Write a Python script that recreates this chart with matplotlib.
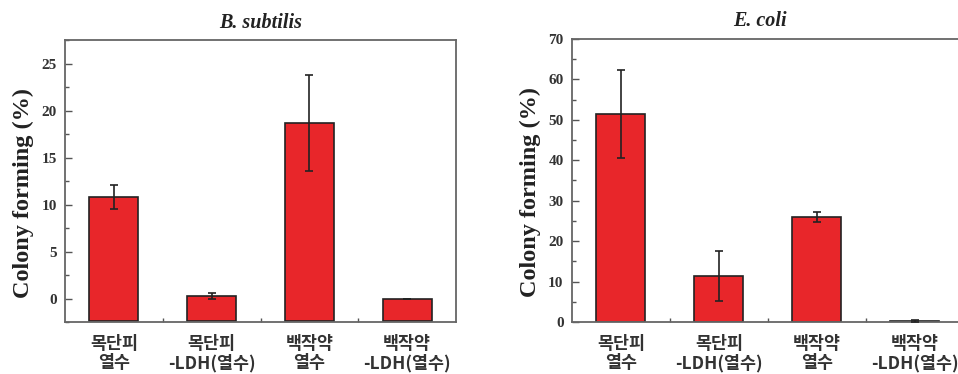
import matplotlib
matplotlib.use("Agg")
import matplotlib.pyplot as plt
import numpy as np

# 데이터
groups = ["목단피\n열수", "목단피\n-LDH(열수)", "백작약\n열수", "백작약\n-LDH(열수)"]
bs_mean = [10.8, 0.25, 18.7, 0.0]
bs_err = [1.25, 0.35, 5.1, 0.0]
ec_mean = [51.4, 11.4, 25.9, 0.3]
ec_err = [10.8, 6.2, 1.2, 0.3]

serif = ["Liberation Serif", "DejaVu Serif"]
kor = ["Noto Sans CJK KR", "DejaVu Sans"]
bar_col = "#e8262a"

fig = plt.figure(figsize=(9.58, 3.74), dpi=100)
ax1 = fig.add_axes([0.0679, 0.139, 0.4081, 0.754])
ax2 = fig.add_axes([0.597, 0.139, 0.409, 0.757])

x = np.arange(1, len(groups) + 1)

def draw(ax, mean, err, title, ylim, major, minor):
    # 막대는 축 아래쪽 끝에서 시작
    base = ylim[0]
    ax.bar(x, np.array(mean) - base, bottom=base, width=0.5, color=bar_col,
           edgecolor="#222222", linewidth=1.2, zorder=2)
    ax.errorbar(x, mean, yerr=err, fmt="none", ecolor="#222222", elinewidth=1.2,
                capsize=3, capthick=1.2, zorder=3)
    ax.set_xlim(0.5, 4.5)
    ax.set_ylim(*ylim)
    ax.set_yticks(major)
    ax.set_yticks(minor, minor=True)
    ax.set_xticks(x)
    ax.set_xticks([1.5, 2.5, 3.5], minor=True)
    ax.set_xticklabels(groups, family=kor, fontweight="bold", fontsize=12.5,
                       color="#333333", linespacing=1.1)
    for lab in ax.get_yticklabels():
        lab.set_family(serif)
        lab.set_fontweight("bold")
        lab.set_fontsize(11)
        lab.set_color("#333333")
    ax.tick_params(axis="y", which="major", direction="in", length=5, width=1, color="#555555", pad=6)
    ax.tick_params(axis="y", which="minor", direction="in", length=3, width=1, color="#555555")
    ax.tick_params(axis="x", which="major", length=0, pad=9)
    ax.tick_params(axis="x", which="minor", direction="in", length=3, width=1, color="#555555")
    for s in ax.spines.values():
        s.set_color("#666666")
        s.set_linewidth(1.3)
    ax.set_ylabel("Colony forming (%)", family=serif, fontweight="bold", fontsize=17.5,
                  color="#222222")
    ax.yaxis.set_label_coords(-0.08, 0.458)
    ax.set_title(title, family=serif, fontweight="bold", style="italic", fontsize=14.5,
                 color="#222222", pad=9)

draw(ax1, bs_mean, bs_err, "B. subtilis", (-2.4, 27.4),
     [0, 5, 10, 15, 20, 25], np.arange(-2.5, 27.6, 2.5))
draw(ax2, ec_mean, ec_err, "E. coli", (0, 70),
     np.arange(0, 71, 10), np.arange(0, 71, 5))
ax2.title.set_position((0.48, 1.0))

fig.savefig("out.png", dpi=100)
